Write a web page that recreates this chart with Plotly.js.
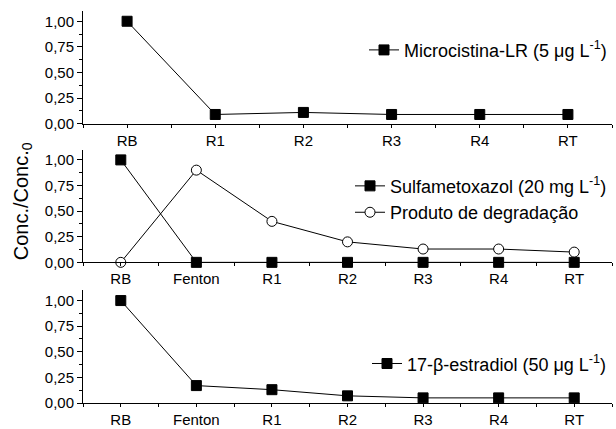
<!DOCTYPE html>
<html>
<head>
<meta charset="utf-8">
<script src="https://cdn.plot.ly/plotly-3.0.1.min.js"></script>
<style>html,body{margin:0;padding:0;background:#fff;}#chart{width:616px;height:429px;}</style>
</head>
<body>
<div id="chart"></div>
<script>
// ---- data ----
const categories1 = ["RB", "R1", "R2", "R3", "R4", "RT"];
const categories23 = ["RB", "Fenton", "R1", "R2", "R3", "R4", "RT"];
const microcistina = [1.00, 0.09, 0.11, 0.09, 0.09, 0.09];
const sulfametoxazol = [1.00, 0.00, 0.00, 0.00, 0.00, 0.00, 0.00];
const produto = [0.00, 0.90, 0.40, 0.20, 0.13, 0.13, 0.10];
const estradiol = [1.00, 0.17, 0.13, 0.07, 0.05, 0.05, 0.05];
const yTicks = [0, 0.25, 0.5, 0.75, 1.0];

const idx = arr => arr.map((_, i) => i);
const FONT = "Liberation Sans, Arial, sans-serif";
const lineStyle = {color: "#000", width: 1};
const sq = {symbol: "square", size: 10, color: "#000", line: {color: "#000", width: 1}};

const traces = [
  {x: idx(categories1), y: microcistina, xaxis: "x", yaxis: "y", mode: "lines+markers",
   name: "Microcistina-LR (5 μg L<sup>-1</sup>)", line: lineStyle, marker: sq, legend: "legend", cliponaxis: false},
  {x: idx(categories23), y: sulfametoxazol, xaxis: "x2", yaxis: "y2", mode: "lines+markers",
   name: "Sulfametoxazol (20 mg L<sup>-1</sup>)", line: lineStyle, marker: sq, legend: "legend2", cliponaxis: false},
  {x: idx(categories23), y: produto, xaxis: "x2", yaxis: "y2", mode: "lines+markers",
   name: "Produto de degradação", line: lineStyle,
   marker: {symbol: "circle", size: 10, color: "#fff", line: {color: "#000", width: 1}}, legend: "legend2", cliponaxis: false},
  {x: idx(categories23), y: estradiol, xaxis: "x3", yaxis: "y3", mode: "lines+markers",
   name: "17-β-estradiol (50 μg L<sup>-1</sup>)", line: lineStyle, marker: sq, legend: "legend3", cliponaxis: false}
];

function xAxis(cats, anchor) {
  return {
    anchor: anchor, domain: [0, 1], range: [-0.5, cats.length - 0.5],
    tickmode: "array", tickvals: idx(cats), ticktext: cats,
    ticks: "outside", ticklen: 3, tickwidth: 1, tickcolor: "#000",
    minor: {tickmode: "linear", tick0: 0.5, dtick: 1, ticks: "outside", ticklen: 3, tickcolor: "#000", showgrid: false},
    showline: true, linecolor: "#000", linewidth: 1, showgrid: false, zeroline: false,
    tickfont: {family: FONT, size: 15, color: "#000"}, fixedrange: true
  };
}
function yAxis(dom, anchor) {
  return {
    anchor: anchor, domain: dom, range: [0, 1.1],
    tickmode: "array", tickvals: yTicks, tickformat: ".2f",
    ticks: "outside", ticklen: 5, tickwidth: 1, tickcolor: "#000",
    minor: {tickmode: "linear", tick0: 0.125, dtick: 0.25, ticks: "outside", ticklen: 3, tickcolor: "#000", showgrid: false},
    showline: true, linecolor: "#000", linewidth: 1, showgrid: false, zeroline: false,
    tickfont: {family: FONT, size: 15, color: "#000"}, fixedrange: true
  };
}

const legBase = {font: {family: FONT, size: 18, color: "#000"}, bgcolor: "rgba(0,0,0,0)",
  borderwidth: 0, xanchor: "right", yanchor: "middle", tracegroupgap: 0, itemwidth: 30};

const layout = {
  width: 616, height: 429,
  margin: {l: 83, r: 4, t: 11, b: 26},
  paper_bgcolor: "#fff", plot_bgcolor: "#fff",
  separators: ",.",
  font: {family: FONT, color: "#000"},
  xaxis: xAxis(categories1, "y"),
  yaxis: yAxis([0.7125, 1.0], "x"),
  xaxis2: xAxis(categories23, "y2"),
  yaxis2: yAxis([0.3588, 0.6463], "x2"),
  xaxis3: xAxis(categories23, "y3"),
  yaxis3: yAxis([0, 0.2875], "x3"),
  legend: Object.assign({}, legBase, {x: 1.0, y: 0.90}),
  legend2: Object.assign({}, legBase, {x: 1.0, y: 0.52}),
  legend3: Object.assign({}, legBase, {x: 1.0, y: 0.10}),
  annotations: [{
    text: "Conc./Conc.<sub>0</sub>", xref: "paper", yref: "paper", x: -0.115, y: 0.515,
    textangle: -90, showarrow: false, font: {family: FONT, size: 20, color: "#000"},
    xanchor: "center", yanchor: "middle"
  }],
  showlegend: true
};

Plotly.newPlot("chart", traces, layout, {staticPlot: true, displayModeBar: false});
</script>
</body>
</html>
